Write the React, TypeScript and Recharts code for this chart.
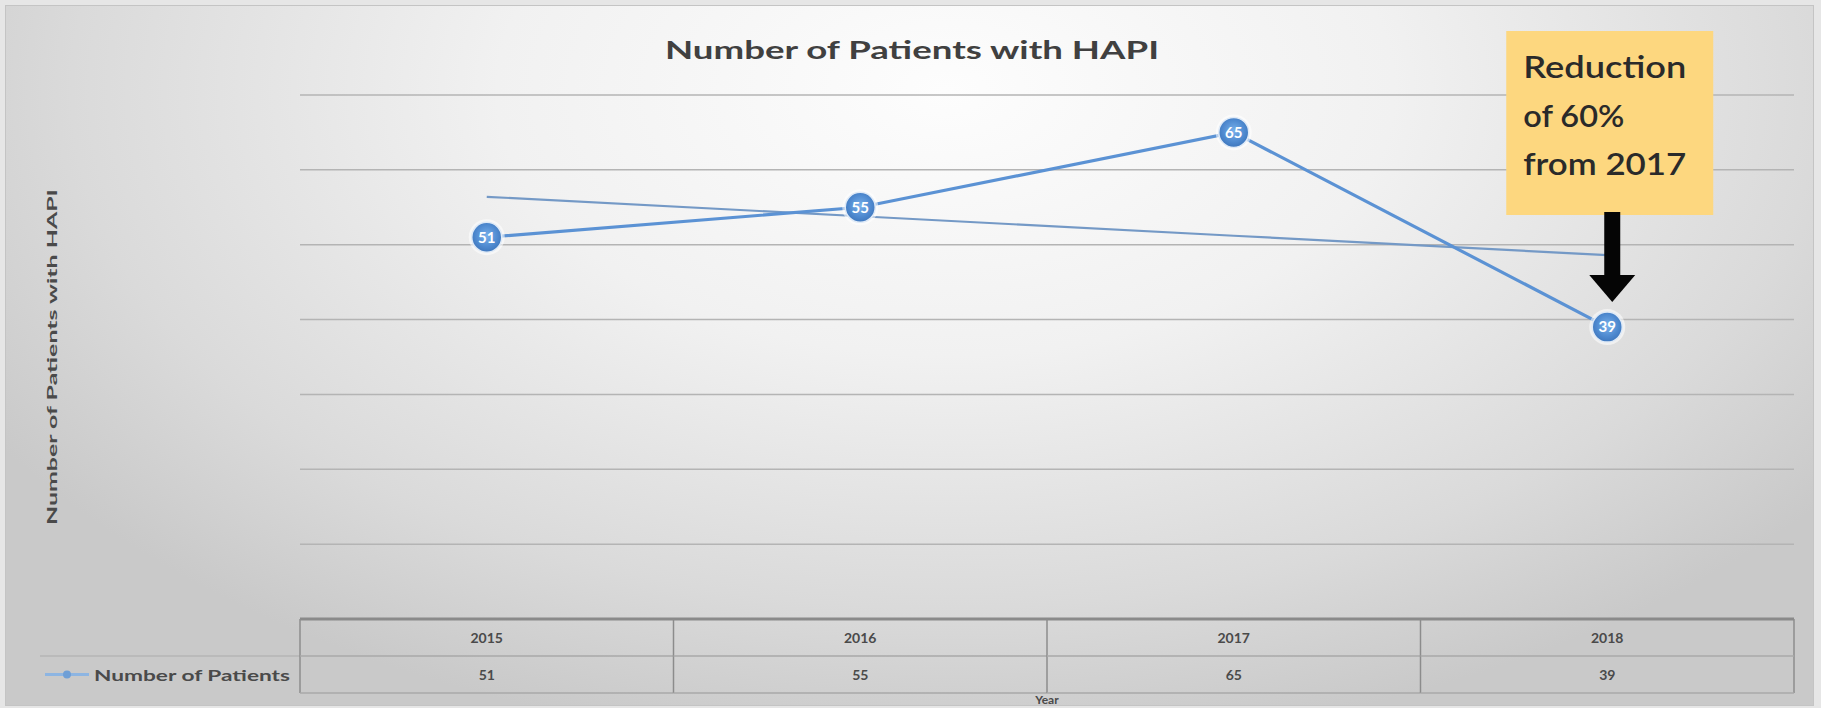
import React from "react";
import { LineChart, Line, XAxis, YAxis, CartesianGrid, LabelList, ReferenceDot } from "recharts";

const years = ["2015", "2016", "2017", "2018"];
const patients = [51, 55, 65, 39];
// linear trendline as it is drawn in the source chart
const trend = [56.4, 53.8, 51.2, 48.6];
const yTicks = [0, 10, 20, 30, 40, 50, 60, 70];
const seriesName = "Number of Patients";
const noteLines = ["Reduction", "of 60%", "from 2017"];

const data = years.map((year, i) => ({ year, patients: patients[i], trend: trend[i] }));

const W = 1821;
const H = 708;
const X_AXIS_H = 89;
const M = { top: 95, right: 27, bottom: 0, left: 240 };
const Y_AXIS_W = 60;
const PLOT_L = M.left + Y_AXIS_W;
const PLOT_R = W - M.right;
const BAND = (PLOT_R - PLOT_L) / years.length;
const ROW = 37;
const FONT = "Lato, 'Open Sans', sans-serif";
const NOTE_WIDTHS = [163, 101, 163];
const TXT = "#4a4a4a";

function LegendCell({ right, top }: { right: number; top: number }) {
  const left = 40;
  const mid = top + ROW / 2;
  return (
    <g>
      <line x1={left} x2={right} y1={top} y2={top} stroke="#b5b5b5" strokeWidth={1.5} />
      <line x1={left} x2={right} y1={top + ROW} y2={top + ROW} stroke="#c8c8c8" strokeWidth={1.5} />
      <line x1={45} x2={89} y1={mid} y2={mid} stroke="#8db5e2" strokeWidth={3} />
      <circle cx={67} cy={mid} r={4} fill="#6f9fd6" />
      <text x={94} y={mid} dominantBaseline="central" fontFamily={FONT} fontWeight={700} fontSize={15} fill={TXT} textLength={196} lengthAdjust="spacingAndGlyphs">
        {seriesName}
      </text>
    </g>
  );
}

function TableTick(props: any) {
  const { x, y, payload, index } = props;
  const left = x - BAND / 2;
  const top = y;
  const row = data[index];
  return (
    <g>
      {index === 0 && <LegendCell right={left} top={top + ROW} />}
      <line x1={left} x2={left} y1={top} y2={top + 2 * ROW} stroke="#8c8c8c" strokeWidth={1.5} />
      {index === years.length - 1 && (
        <line x1={left + BAND} x2={left + BAND} y1={top} y2={top + 2 * ROW} stroke="#8c8c8c" strokeWidth={1.5} />
      )}
      <line x1={left} x2={left + BAND} y1={top + ROW} y2={top + ROW} stroke="#a8a8a8" strokeWidth={1.5} />
      <line x1={left} x2={left + BAND} y1={top + 2 * ROW} y2={top + 2 * ROW} stroke="#a8a8a8" strokeWidth={1.5} />
      <text x={x} y={top + ROW / 2} textAnchor="middle" dominantBaseline="central" fontFamily={FONT} fontWeight={700} fontSize={14} fill={TXT}>
        {payload.value}
      </text>
      <text x={x} y={top + ROW * 1.5} textAnchor="middle" dominantBaseline="central" fontFamily={FONT} fontWeight={700} fontSize={14} fill={TXT}>
        {row ? row.patients : ""}
      </text>
    </g>
  );
}

function XTitle(props: any) {
  const { viewBox } = props;
  const cx = viewBox.x + viewBox.width / 2;
  return (
    <text x={cx} y={H - 9} textAnchor="middle" dominantBaseline="central" fontFamily={FONT} fontWeight={700} fontSize={12} fill={TXT}>
      Year
    </text>
  );
}

function YTitle(props: any) {
  const { viewBox } = props;
  const cy = viewBox.y + viewBox.height / 2;
  return (
    <text x={52} y={cy} transform={`rotate(-90 52 ${cy})`} textAnchor="middle" dominantBaseline="central" fontFamily={FONT} fontWeight={700} fontSize={13} fill={TXT} textLength={336} lengthAdjust="spacingAndGlyphs">
      Number of Patients with HAPI
    </text>
  );
}

const NoTick = () => <g />;

function Bubble(props: any) {
  const { cx, cy } = props;
  if (cx == null || cy == null) return null;
  return (
    <g>
      <circle cx={cx} cy={cy} r={18} fill="#ffffff" opacity={0.55} />
      <circle cx={cx} cy={cy} r={15} fill="url(#bubbleFill)" stroke="#dfeaf7" strokeWidth={1.5} />
    </g>
  );
}

function Callout(props: any) {
  const { cx, cy } = props;
  const boxTop = 31;
  const tip = cy - 25;
  return (
    <g>
      <rect x={cx - 101} y={boxTop} width={207} height={184} fill="#fdd77f" />
      {noteLines.map((t, i) => (
        <text key={t} x={cx - 84} y={boxTop + 35 + i * 48.5} dominantBaseline="central" fontFamily={FONT} fontWeight={600} fontSize={30} fill="#2a2a2a" textLength={NOTE_WIDTHS[i]} lengthAdjust="spacingAndGlyphs">
          {t}
        </text>
      ))}
      <rect x={cx - 3} y={boxTop + 181} width={16} height={tip - 27 - (boxTop + 181)} fill="#050505" />
      <polygon points={`${cx - 18},${tip - 27} ${cx + 28},${tip - 27} ${cx + 5},${tip}`} fill="#050505" />
    </g>
  );
}

export default function App() {
  return (
    <div style={{ position: "absolute", left: 0, top: 0, width: W, height: H, background: "#e6e6e6", overflow: "hidden" }}>
      <div
        style={{
          position: "absolute",
          left: 5,
          top: 5,
          width: W - 14,
          height: H - 9,
          border: "1px solid #c4c4c4",
          background:
            "radial-gradient(ellipse 62% 95% at 52% 12%, #fdfdfd 0%, #f1f1f1 40%, #dadada 78%, #c9c9c9 100%)",
        }}
      />
      <div style={{ position: "absolute", left: 0, top: 0 }}>
        <LineChart width={W} height={H} data={data} margin={M}>
          <defs>
            <radialGradient id="bubbleFill" cx="50%" cy="45%" r="60%">
              <stop offset="0%" stopColor="#78b0ea" />
              <stop offset="60%" stopColor="#4f8ad0" />
              <stop offset="100%" stopColor="#3a72b8" />
            </radialGradient>
          </defs>
          <text x={912} y={49} textAnchor="middle" dominantBaseline="central" fontFamily={FONT} fontWeight={700} fontSize={24} fill="#404040" textLength={494} lengthAdjust="spacingAndGlyphs">
            Number of Patients with HAPI
          </text>
          <CartesianGrid vertical={false} stroke="#b4b4b4" strokeWidth={1.5} />
          <XAxis
            dataKey="year"
            padding={{ left: BAND / 2, right: BAND / 2 }}
            axisLine={{ stroke: "#8a8a8a", strokeWidth: 3 }}
            tickLine={false}
            tickSize={0}
            tickMargin={0}
            interval={0}
            height={X_AXIS_H}
            tick={<TableTick />}
            label={<XTitle />}
          />
          <YAxis
            domain={[0, 70]}
            ticks={yTicks}
            width={Y_AXIS_W}
            tick={NoTick}
            tickLine={false}
            axisLine={false}
            label={<YTitle />}
          />
          <Line
            dataKey="trend"
            legendType="none"
            stroke="#7499c6"
            strokeWidth={2.2}
            dot={false}
            activeDot={false}
            isAnimationActive={false}
          />
          <Line
            dataKey="patients"
            name={seriesName}
            stroke="#5b92d4"
            strokeWidth={3.2}
            dot={<Bubble />}
            activeDot={false}
            isAnimationActive={false}
          >
            <LabelList dataKey="patients" position="center" fill="#ffffff" fontFamily={FONT} fontWeight={700} fontSize={15} />
          </Line>
          <ReferenceDot x="2018" y={patients[3]} r={0} shape={<Callout />} ifOverflow="visible" />
        </LineChart>
      </div>
    </div>
  );
}
